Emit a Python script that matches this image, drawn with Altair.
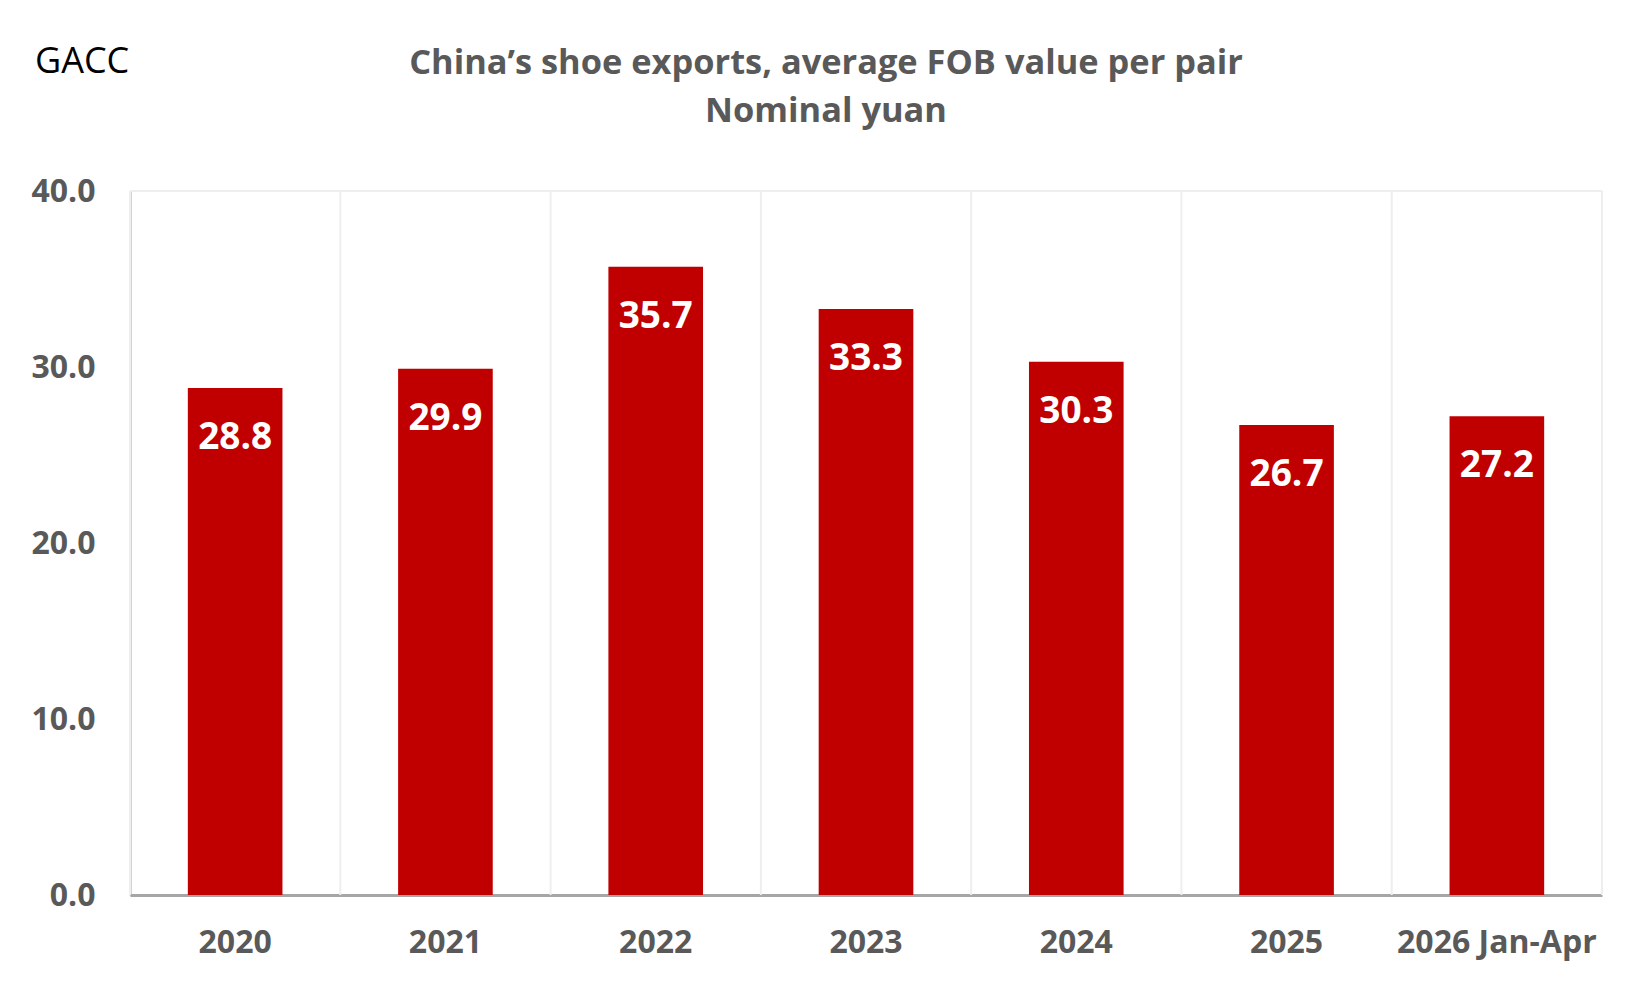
import altair as alt
import pandas as pd

categories = ["2020", "2021", "2022", "2023", "2024", "2025", "2026 Jan-Apr"]
values = [28.8, 29.9, 35.7, 33.3, 30.3, 26.7, 27.2]
y_ticks = [0, 10, 20, 30, 40]
title_line1 = "China\u2019s shoe exports, average FOB value per pair"
title_line2 = "Nominal yuan"
source_label = "GACC"

df = pd.DataFrame({"cat": categories, "val": values})
bounds = pd.DataFrame({"b": list(range(len(categories) + 1))})
top_df = pd.DataFrame({"val": [y_ticks[-1]]})

FONT = "Open Sans"
GREY = "#595959"
W, H = 1472, 704

xscale = alt.Scale(domain=categories, paddingInner=0.55, paddingOuter=0.275)
yscale = alt.Scale(domain=[0, 40], nice=False)

yaxis = alt.Axis(
    values=y_ticks,
    format=".1f",
    labelFont=FONT,
    labelFontSize=32,
    labelFontWeight="bold",
    labelColor=GREY,
    labelPadding=35,
    ticks=False,
    grid=False,
    domainColor="#a6a6a6",
    domainWidth=2,
)

grid = alt.Chart(bounds).mark_rule(color="#eeeeee", strokeWidth=2).encode(
    x=alt.X("b:Q", scale=alt.Scale(domain=[0, len(categories)], nice=False, zero=False), axis=None)
)

top_line = alt.Chart(top_df).mark_rule(color="#eeeeee", strokeWidth=2).encode(
    y=alt.Y("val:Q", scale=yscale, title=None, axis=yaxis),
    x=alt.value(0),
    x2=alt.value(W),
)

bars = alt.Chart(df).mark_bar(color="#C00000").encode(
    x=alt.X(
        "cat:N",
        sort=categories,
        scale=xscale,
        title=None,
        axis=alt.Axis(
            labelFont=FONT,
            labelFontSize=32,
            labelFontWeight="bold",
            labelColor=GREY,
            labelAngle=0,
            labelPadding=32,
            labelLimit=0,
            ticks=False,
            grid=False,
            domainColor="#a6a6a6",
            domainWidth=3,
        ),
    ),
    y=alt.Y("val:Q", scale=yscale, title=None, axis=yaxis),
)

labels = alt.Chart(df).mark_text(
    font=FONT, fontSize=37, fontWeight="bold", color="white", baseline="middle", dy=50
).encode(
    x=alt.X("cat:N", sort=categories, scale=xscale, axis=None),
    y=alt.Y("val:Q", scale=yscale, title=None, axis=yaxis),
    text=alt.Text("val:Q", format=".1f"),
)

t1 = alt.Chart(pd.DataFrame({"t": [title_line1]})).mark_text(
    font=FONT, fontSize=34.4, fontWeight="bold", color=GREY, align="center", baseline="middle"
).encode(text="t:N", x=alt.value(696), y=alt.value(-127))

t2 = alt.Chart(pd.DataFrame({"t": [title_line2]})).mark_text(
    font=FONT, fontSize=34.4, fontWeight="bold", color=GREY, align="center", baseline="middle"
).encode(text="t:N", x=alt.value(696), y=alt.value(-79))

src = alt.Chart(pd.DataFrame({"t": [source_label]})).mark_text(
    font=FONT, fontSize=36, color="black", align="left", baseline="middle"
).encode(text="t:N", x=alt.value(-95), y=alt.value(-129))

chart = (
    alt.layer(grid, top_line, bars, labels, t1, t2, src)
    .resolve_scale(x="independent")
    .properties(
        width=W,
        height=H,
        padding={"left": 122, "top": 183, "right": 40, "bottom": 75},
        autosize=alt.AutoSizeParams(type="none"),
        background="white",
    )
    .configure_view(stroke=None)
)

chart.save("out.html", embed_options={"renderer": "svg", "actions": False})
